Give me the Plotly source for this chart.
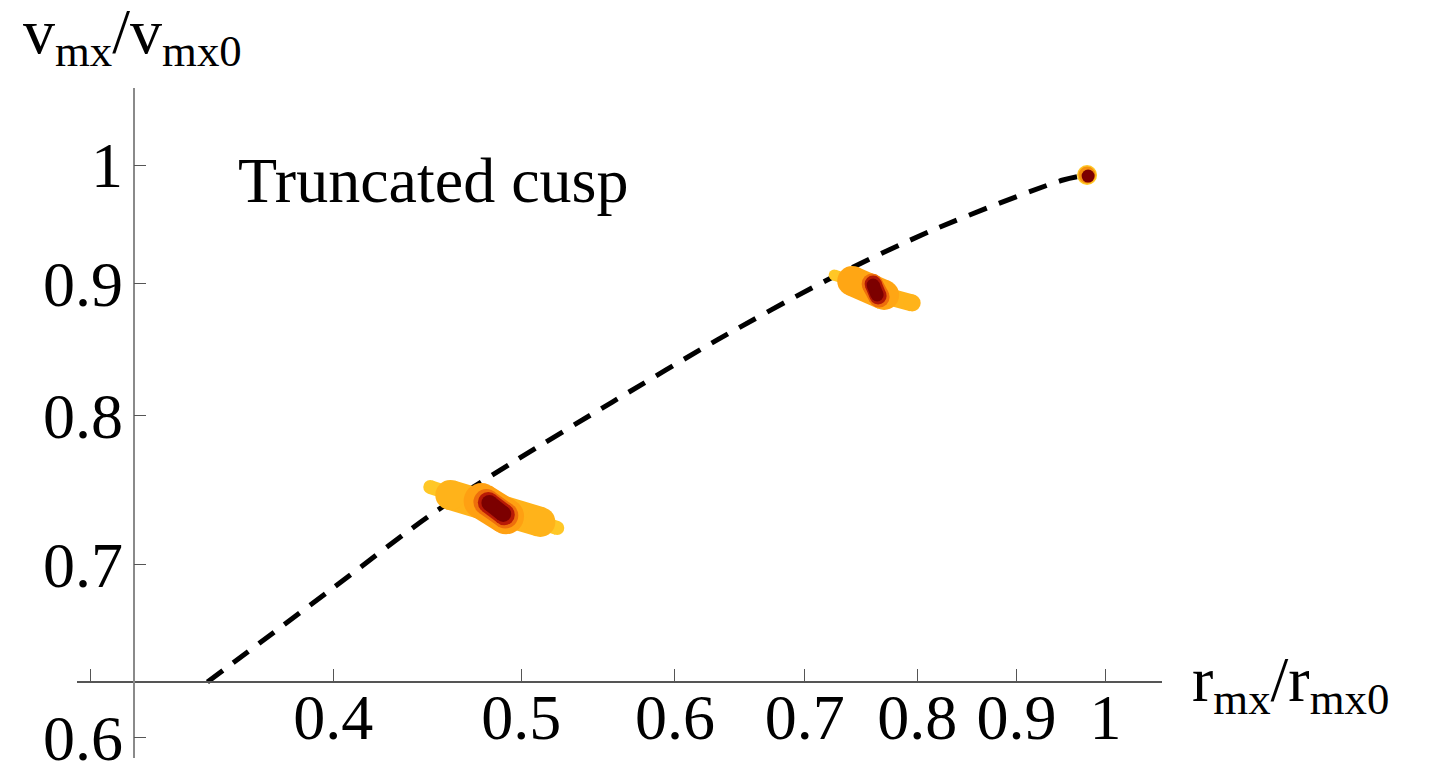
import plotly.graph_objects as go
import math

# ---------------- data ----------------
# dashed model track (r_mx/r_mx0, v_mx/v_mx0)
track_r = [0.3445, 0.3987, 0.4489, 0.4953, 0.557, 0.6309, 0.7188, 0.8151, 0.951, 0.9785]
track_v = [0.6305, 0.6845, 0.7318, 0.7673, 0.8094, 0.8555, 0.9025, 0.9437, 0.9867, 0.9911]

# posterior blobs: each layer is a segment [start, end] (outer -> inner layers)
blob1_r = [[0.4488, 0.5218], [0.4596, 0.5114], [0.4770, 0.4910], [0.4797, 0.4906], [0.4808, 0.4900], [0.4814, 0.4894]]
blob1_v = [[0.7503, 0.7234], [0.7450, 0.7273], [0.7410, 0.7310], [0.7403, 0.7315], [0.7400, 0.7320], [0.7397, 0.7325]]
blob2_r = [[0.7248, 0.7970], [0.7609, 0.7951], [0.7405, 0.7691], [0.7582, 0.7645], [0.7591, 0.7636], [0.7591, 0.7627]]
blob2_v = [[0.9065, 0.8842], [0.8921, 0.8842], [0.9017, 0.8905], [0.8993, 0.8889], [0.8993, 0.8897], [0.8985, 0.8905]]
blob3_r = [[0.9785], [0.9785], [0.9797]]
blob3_v = [[0.9911], [0.9911], [0.9902]]

x_tickvals = [0.3, 0.4, 0.5, 0.6, 0.7, 0.8, 0.9, 1.0]
x_ticktext = ["", "0.4", "0.5", "0.6", "0.7", "0.8", "0.9", "1"]
y_tickvals = [0.6, 0.7, 0.8, 0.9, 1.0]
y_ticktext = ["0.6", "0.7", "0.8", "0.9", "1"]

x_range = [0.2951, 1.0695]
y_range = [0.5892, 1.0711]
x_cross = 0.3156   # where the vertical axis sits
y_cross = 0.6306   # where the horizontal axis sits

# ---------------- styles ----------------
FONT = "Liberation Serif"
FS = 64
blob1_style = [("#FFC726", 14), ("#FFB31A", 30), ("#FFA012", 36), ("#EE6E0C", 26), ("#B81A06", 21), ("#7C0000", 16)]
blob2_style = [("#FFC726", 11), ("#FFB31A", 17), ("#FFA614", 30), ("#EE6E0C", 21), ("#B01806", 17), ("#7C0000", 13)]
blob3_style = [("#FFC726", 20), ("#F5900E", 17), ("#7C0000", 13)]

fig = go.Figure()

fig.add_trace(go.Scatter(
    x=track_r, y=track_v, mode="lines",
    line=dict(color="black", width=5, dash="19px,13px", shape="spline", smoothing=0.8),
    hoverinfo="skip", showlegend=False))

for rr, vv, style in [(blob1_r, blob1_v, blob1_style),
                      (blob2_r, blob2_v, blob2_style),
                      (blob3_r, blob3_v, blob3_style)]:
    for seg_r, seg_v, (col, w) in zip(rr, vv, style):
        fig.add_trace(go.Scatter(
            x=seg_r, y=seg_v, mode="lines+markers",
            line=dict(color=col, width=w),
            marker=dict(color=col, size=w, line=dict(width=0)),
            hoverinfo="skip", showlegend=False))

L, R, T, B = 77, 268, 88, 7
W, H = 1430, 765
pw = W - L - R
ph = H - T - B

def lg(v):
    return math.log10(v)

ypos = (lg(y_cross) - lg(y_range[0])) / (lg(y_range[1]) - lg(y_range[0]))
xpos = (lg(x_cross) - lg(x_range[0])) / (lg(x_range[1]) - lg(x_range[0]))

fig.update_layout(
    template="none",
    width=W, height=H,
    margin=dict(l=L, r=R, t=T, b=B, pad=0),
    paper_bgcolor="white", plot_bgcolor="white",
    font=dict(family=FONT, size=FS, color="black"),
    xaxis=dict(type="log", range=[lg(x_range[0]), lg(x_range[1])],
               anchor="free", position=ypos, side="bottom",
               showline=True, linecolor="#555555", linewidth=1.6,
               showgrid=False, zeroline=False,
               ticks="inside", ticklen=12, tickwidth=1.4, tickcolor="#555555",
               tickvals=x_tickvals, ticktext=x_ticktext,
               tickfont=dict(family=FONT, size=FS, color="black"),
               ticklabelstandoff=-20, ticklabeloverflow="allow", automargin=False),
    yaxis=dict(type="log", range=[lg(y_range[0]), lg(y_range[1])],
               anchor="free", position=xpos, side="left",
               showline=True, linecolor="#8a8a8a", linewidth=1.6,
               showgrid=False, zeroline=False,
               ticks="inside", ticklen=12, tickwidth=1.4, tickcolor="#555555",
               tickvals=y_tickvals, ticktext=y_ticktext,
               tickfont=dict(family=FONT, size=FS, color="black"),
               ticklabelstandoff=-3, ticklabeloverflow="allow", automargin=False),
    hovermode=False,
    annotations=[
        dict(text="v<sub>mx</sub>/v<sub>mx0</sub>", xref="paper", yref="paper",
             x=(21 - L) / pw, y=(H - B - 36) / ph, xanchor="left", yanchor="middle",
             showarrow=False, font=dict(family=FONT, size=FS, color="black")),
        dict(text="r<sub>mx</sub>/r<sub>mx0</sub>", xref="paper", yref="paper",
             x=(1190 - L) / pw, y=(H - B - 684) / ph, xanchor="left", yanchor="middle",
             showarrow=False, font=dict(family=FONT, size=FS, color="black")),
        dict(text="Truncated cusp", xref="paper", yref="paper",
             x=(236 - L) / pw, y=(H - B - 180) / ph, xanchor="left", yanchor="middle",
             showarrow=False, font=dict(family=FONT, size=FS, color="black")),
    ],
)

fig.write_html("out.html")
